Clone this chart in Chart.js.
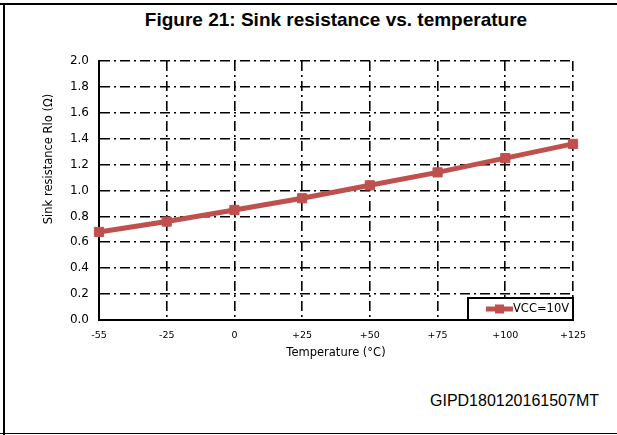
<!DOCTYPE html>
<html>
<head>
<meta charset="utf-8">
<script src="https://cdn.jsdelivr.net/npm/chart.js@4.4.0/dist/chart.umd.min.js"></script>
<style>
  html, body { margin: 0; padding: 0; background: #fff; }
  #wrap { position: relative; width: 617px; height: 435px; overflow: hidden; }
  .rule { position: absolute; background: #000; }
  #title {
    position: absolute; left: 36px; top: 8px; width: 600px; text-align: center;
    font: bold 19px "Liberation Sans", Arial, sans-serif; line-height: 24px; color: #000;
  }
  #code {
    position: absolute; left: 430px; top: 392px;
    font: 16px "Liberation Sans", Arial, sans-serif; line-height: 18px; color: #000;
  }
  #chart { position: absolute; left: 0; top: 0; }
</style>
</head>
<body>
<div id="wrap">
  <div class="rule" style="left:0;top:3px;width:617px;height:2px"></div>
  <div class="rule" style="left:3px;top:3px;width:2px;height:432px"></div>
  <div class="rule" style="left:0;top:433px;width:617px;height:1px"></div>
  <div id="title">Figure 21: Sink resistance vs. temperature</div>
  <div id="code">GIPD180120161507MT</div>
  <canvas id="chart" width="617" height="435"></canvas>
</div>
<script>
// values
const temperatures = ['-55', '-25', '0', '+25', '+50', '+75', '+100', '+125'];
const sinkResistance = [0.68, 0.76, 0.85, 0.94, 1.04, 1.14, 1.25, 1.36];
const seriesName = 'VCC=10V';
const lineColor = '#C0504D';

// legend box in the lower right corner of the plot + rotated y title
const extras = {
  id: 'extras',
  afterDraw(chart) {
    const ctx = chart.ctx;
    const area = chart.chartArea;
    ctx.save();

    // y axis title, sits higher than the plot centre in the original
    ctx.translate(49, 159);
    ctx.rotate(-Math.PI / 2);
    ctx.fillStyle = '#000';
    ctx.font = '11.5px "DejaVu Sans"';
    ctx.textAlign = 'center';
    ctx.textBaseline = 'middle';
    ctx.fillText('Sink resistance Rlo (\u03A9)', 0, 0);
    ctx.restore();

    ctx.save();
    const bx = area.right - 105, by = area.bottom - 22;
    ctx.fillStyle = '#fff';
    ctx.fillRect(bx, by, 105, 22);
    ctx.strokeStyle = '#000';
    ctx.lineWidth = 2;
    ctx.strokeRect(bx, by, 105, 22);

    const my = by + 11;
    ctx.strokeStyle = lineColor;
    ctx.lineWidth = 5;
    ctx.beginPath();
    ctx.moveTo(bx + 18, my);
    ctx.lineTo(bx + 45, my);
    ctx.stroke();
    ctx.fillStyle = lineColor;
    ctx.fillRect(bx + 27, my - 4.5, 9, 9);

    ctx.fillStyle = '#000';
    ctx.font = '11.5px "DejaVu Sans"';
    ctx.textAlign = 'left';
    ctx.textBaseline = 'middle';
    ctx.fillText(seriesName, bx + 45, my);
    ctx.restore();
  }
};

const gridDash = [10, 4, 2, 4];

new Chart(document.getElementById('chart'), {
  type: 'line',
  data: {
    labels: temperatures,
    datasets: [{
      label: seriesName,
      data: sinkResistance,
      borderColor: lineColor,
      backgroundColor: lineColor,
      borderWidth: 5,
      pointStyle: 'rect',
      pointRadius: 6.5,
      pointBackgroundColor: lineColor,
      pointBorderColor: lineColor,
      pointBorderWidth: 1,
      tension: 0,
      clip: false
    }]
  },
  options: {
    responsive: false,
    animation: false,
    devicePixelRatio: 1,
    layout: { padding: { top: 61, right: 44, bottom: 0, left: 0 } },
    plugins: {
      legend: { display: false },
      title: { display: false },
      tooltip: { enabled: false }
    },
    scales: {
      x: {
        type: 'category',
        offset: false,
        grid: { color: '#000', lineWidth: 1.6, drawTicks: false },
        border: { display: true, color: '#000', width: 2, dash: gridDash },
        ticks: {
          color: '#000',
          padding: 10,
          maxRotation: 0,
          autoSkip: false,
          font: { family: 'DejaVu Sans', size: 9.5 }
        },
        title: {
          display: true,
          text: 'Temperature (\u00B0C)',
          color: '#000',
          font: { family: 'DejaVu Sans', size: 11.5 },
          padding: { top: 0, bottom: 75 }
        },
        afterFit(scale) { scale.height = 115; }
      },
      y: {
        min: 0,
        max: 2,
        grid: { color: '#000', lineWidth: 1.6, drawTicks: false },
        border: { display: true, color: '#000', width: 2, dash: gridDash },
        ticks: {
          stepSize: 0.2,
          color: '#000',
          padding: 10,
          font: { family: 'DejaVu Sans', size: 12 },
          callback: v => v.toFixed(1)
        },
        afterFit(scale) { scale.width = 99; }
      }
    }
  },
  plugins: [extras]
});
</script>
</body>
</html>
